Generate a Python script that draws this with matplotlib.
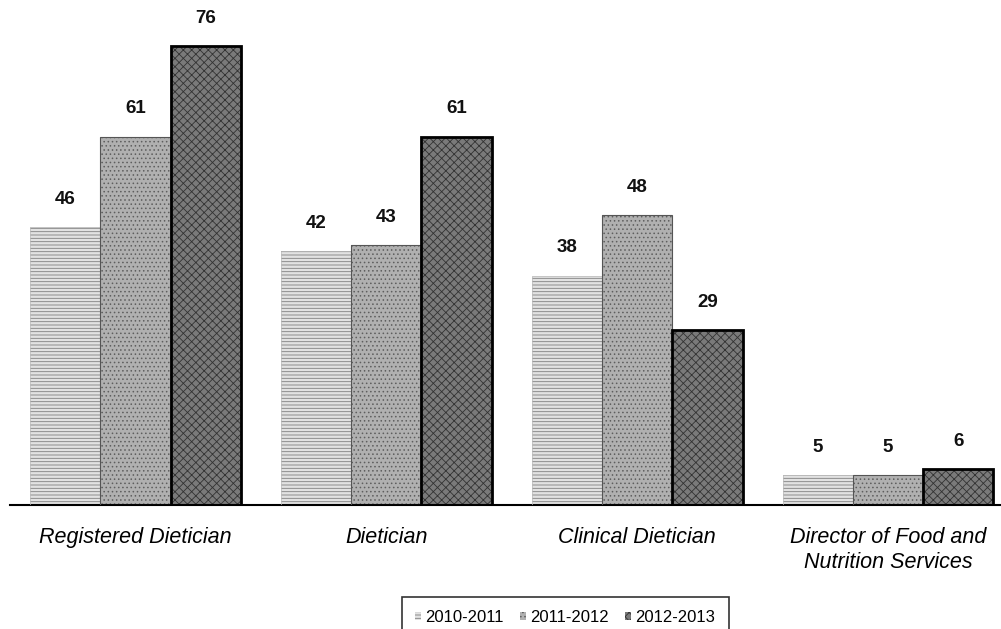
import matplotlib
matplotlib.use("Agg")
import matplotlib.pyplot as plt
import numpy as np

plt.rcParams["font.family"] = ["Liberation Sans", "DejaVu Sans"]
plt.rcParams["hatch.linewidth"] = 0.6

# ── data ──────────────────────────────────────────────────────────────────────
categories = ["Registered Dietician", "Dietician", "Clinical Dietician",
              "Director of Food and\nNutrition Services"]
series = ["2010-2011", "2011-2012", "2012-2013"]
v2010 = [46, 42, 38, 5]
v2011 = [61, 43, 48, 5]
v2012 = [76, 61, 29, 6]

# ── styles ────────────────────────────────────────────────────────────────────
faces = ["#e2e2e2", "#b0b0b0", "#7a7a7a"]
hatches = ["-----", "....", "xxxx"]
hcols = ["#808080", "#5e5e5e", "#333333"]
edges = ["#bbbbbb", "#555555", "#000000"]
elw = [0.5, 0.8, 2.0]

fig = plt.figure(figsize=(10.01, 6.29), dpi=100)
ax = fig.add_axes([0.010, 0.197, 0.990, 0.768])

x = np.arange(len(categories))
w = 0.28
for i, vals in enumerate([v2010, v2011, v2012]):
    bars = ax.bar(x + (i - 1) * w, vals, w, color=faces[i], hatch=hatches[i],
                  edgecolor=hcols[i], linewidth=0, label=series[i], zorder=2)
    ax.bar(x + (i - 1) * w, vals, w, facecolor="none", edgecolor=edges[i],
           linewidth=elw[i], zorder=3)
    for b, v in zip(bars, vals):
        ax.text(b.get_x() + b.get_width() / 2, v + 4.6, str(v), ha="center",
                va="center", fontsize=13.5, fontweight="bold", color="#111111")

ax.set_xlim(-0.5, 3.45)
ax.set_ylim(0, 80)
ax.set_yticks([])
for s in ["top", "right", "left"]:
    ax.spines[s].set_visible(False)
ax.spines["bottom"].set_linewidth(1.5)
ax.set_xticks(x)
ax.set_xticklabels(categories, fontstyle="italic", fontsize=15.5, linespacing=1.25)
ax.tick_params(axis="x", length=0, pad=16)

leg = fig.legend(loc="upper center", bbox_to_anchor=(0.5645, 0.051), ncol=3,
                 fontsize=12, frameon=True, fancybox=False, handlelength=0.35,
                 handleheight=0.35, handletextpad=0.25, columnspacing=1.0,
                 borderpad=0.8, borderaxespad=0)
leg.get_frame().set_edgecolor("#000000")
leg.get_frame().set_linewidth(1.2)

fig.savefig("out.png", dpi=100, facecolor="white")
